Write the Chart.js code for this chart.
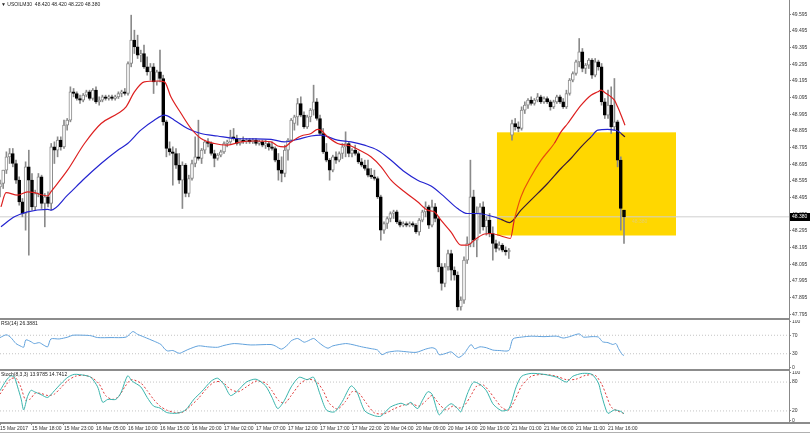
<!DOCTYPE html>
<html><head><meta charset="utf-8">
<script src="https://cdn.jsdelivr.net/npm/chart.js@4.4.1/dist/chart.umd.min.js"></script>
<style>
html,body{margin:0;padding:0;background:#fff;width:810px;height:433px;overflow:hidden;position:relative;}
canvas{position:absolute;left:0;}
.sep{position:absolute;background:#8c8c8c;}
</style></head><body>
<canvas id="cMain" width="810" height="318" style="top:0px"></canvas>
<canvas id="cRsi" width="810" height="49" style="top:320px"></canvas>
<canvas id="cSto" width="810" height="62" style="top:371px"></canvas>
<div class="sep" style="left:0;top:318px;width:790px;height:2px"></div>
<div class="sep" style="left:0;top:369px;width:790px;height:2px"></div>
<div class="sep" style="left:0;top:422px;width:810px;height:2px"></div>
<div class="sep" style="left:0;top:432px;width:810px;height:1px;background:#b0b0b0"></div>
<script>
// ---------- DATA ----------
const symbolTitle = '\u25BC USOILM30  48.420 48.420 48.220 48.380';
const rsiTitle = 'RSI(14) 26.3881';
const stoTitle = 'Stoch(8,3,3) 13.9785 14.7412';
const lastPrice = 48.380;

const O = [
48.56,48.58,48.66,48.74,48.76,48.70,48.60,48.47,48.40,48.68,
48.60,48.44,48.52,48.62,48.46,48.50,48.46,48.80,48.78,48.84,
48.80,48.93,48.96,49.13,49.12,49.09,49.08,49.11,49.13,49.09,
49.14,49.07,49.08,49.10,49.09,49.10,49.09,49.10,49.12,49.13,
49.12,49.30,49.44,49.40,49.35,49.36,49.28,49.25,49.28,49.19,
49.25,49.21,48.95,48.79,48.77,48.76,48.69,48.60,48.69,48.52,
48.61,48.70,48.74,48.73,48.78,48.83,48.82,48.76,48.73,48.75,
48.77,48.82,48.83,48.86,48.85,48.82,48.84,48.83,48.84,48.83,
48.84,48.82,48.83,48.81,48.82,48.80,48.79,48.72,48.66,48.64,
48.78,48.84,48.94,48.98,49.06,48.99,48.92,48.98,49.02,49.07,
48.97,48.88,48.77,48.72,48.66,48.74,48.72,48.76,48.80,48.82,
48.76,48.78,48.76,48.71,48.69,48.67,48.63,48.62,48.61,48.50,
48.30,48.34,48.37,48.40,48.41,48.35,48.33,48.34,48.33,48.34,
48.33,48.29,48.36,48.41,48.44,48.33,48.44,48.37,48.08,47.98,
48.08,48.16,48.06,48.03,47.84,47.88,48.12,48.22,48.50,48.24,
48.40,48.44,48.32,48.36,48.28,48.22,48.19,48.21,48.18,48.17,
48.87,48.94,48.92,48.91,49.02,49.05,49.08,49.06,49.08,49.10,
49.07,49.09,49.07,49.04,49.07,49.10,49.07,49.04,49.12,49.20,
49.24,49.31,49.37,49.27,49.29,49.32,49.23,49.31,49.28,49.07,
48.99,49.05,48.92,48.95,48.72,48.42];
const H = [
48.60,48.66,48.77,48.79,48.79,48.72,48.62,48.49,48.71,48.78,
48.64,48.54,48.64,48.63,48.52,48.53,48.82,48.83,48.86,48.86,
48.96,48.97,49.16,49.15,49.13,49.11,49.12,49.14,49.14,49.15,
49.16,49.10,49.11,49.11,49.11,49.11,49.11,49.13,49.14,49.15,
49.31,49.59,49.50,49.47,49.38,49.41,49.34,49.30,49.30,49.26,
49.38,49.23,48.96,48.83,48.80,48.79,48.76,48.71,48.70,48.63,
48.72,48.86,48.96,48.79,48.84,48.85,48.83,48.78,48.76,48.78,
48.83,48.84,48.90,48.91,48.87,48.85,48.86,48.85,48.85,48.85,
48.85,48.84,48.84,48.84,48.83,48.83,48.80,48.76,48.74,48.81,
48.85,48.97,48.99,49.09,49.10,49.01,48.99,49.03,49.17,49.09,
48.99,48.91,48.82,48.73,48.75,48.77,48.77,48.82,48.89,48.83,
48.79,48.81,48.77,48.73,48.72,48.72,48.67,48.66,48.62,48.51,
48.35,48.38,48.41,48.42,48.42,48.36,48.35,48.35,48.35,48.35,
48.34,48.37,48.42,48.47,48.45,48.48,48.46,48.38,48.10,48.10,
48.18,48.18,48.08,48.05,47.90,48.14,48.26,48.72,48.54,48.44,
48.46,48.47,48.38,48.40,48.32,48.24,48.23,48.22,48.20,48.19,
48.96,48.97,48.95,49.04,49.07,49.09,49.10,49.09,49.12,49.11,
49.10,49.10,49.08,49.08,49.11,49.11,49.09,49.14,49.21,49.25,
49.32,49.45,49.39,49.30,49.33,49.33,49.33,49.32,49.30,49.09,
49.14,49.16,49.21,48.96,48.74,48.42];
const L = [
48.50,48.55,48.64,48.70,48.68,48.58,48.45,48.38,48.30,48.15,
48.42,48.42,48.50,48.43,48.32,48.44,48.42,48.70,48.74,48.78,
48.79,48.90,48.95,49.10,49.08,49.06,49.07,49.10,49.08,49.08,
49.06,49.05,49.07,49.08,49.08,49.08,49.08,49.09,49.10,49.11,
49.11,49.28,49.36,49.33,49.31,49.27,49.23,49.20,49.12,49.17,
49.19,48.93,48.74,48.75,48.57,48.67,48.58,48.43,48.50,48.50,
48.60,48.68,48.72,48.70,48.76,48.80,48.75,48.68,48.72,48.74,
48.76,48.80,48.82,48.84,48.81,48.81,48.82,48.82,48.82,48.82,
48.81,48.81,48.80,48.79,48.78,48.78,48.71,48.60,48.59,48.62,
48.72,48.83,48.90,48.93,48.98,48.91,48.91,48.95,48.99,48.96,
48.87,48.76,48.71,48.60,48.65,48.70,48.71,48.73,48.74,48.74,
48.74,48.75,48.70,48.68,48.66,48.62,48.61,48.60,48.49,48.24,
48.28,48.31,48.35,48.37,48.34,48.32,48.32,48.32,48.32,48.32,
48.28,48.27,48.35,48.38,48.31,48.32,48.35,48.05,47.94,47.96,
48.06,48.00,48.00,47.82,47.82,47.86,48.10,48.20,48.20,48.14,
48.28,48.30,48.27,48.26,48.12,48.17,48.18,48.17,48.15,48.13,
48.84,48.90,48.89,48.90,49.00,49.03,49.05,49.05,49.07,49.06,
49.06,49.06,49.02,49.03,49.06,49.06,49.03,49.03,49.11,49.19,
49.23,49.28,49.25,49.24,49.27,49.21,49.22,49.26,49.05,48.97,
48.97,48.88,48.90,48.68,48.30,48.22];
const C = [
48.58,48.66,48.74,48.76,48.70,48.60,48.47,48.40,48.68,48.60,
48.44,48.52,48.62,48.46,48.50,48.46,48.80,48.78,48.84,48.80,
48.93,48.96,49.13,49.12,49.09,49.08,49.11,49.13,49.09,49.14,
49.07,49.08,49.10,49.09,49.10,49.09,49.10,49.12,49.13,49.12,
49.30,49.44,49.40,49.35,49.36,49.28,49.25,49.28,49.19,49.25,
49.21,48.95,48.79,48.77,48.76,48.69,48.60,48.69,48.52,48.61,
48.70,48.74,48.73,48.78,48.83,48.82,48.76,48.73,48.75,48.77,
48.82,48.83,48.86,48.85,48.82,48.84,48.83,48.84,48.83,48.84,
48.82,48.83,48.81,48.82,48.80,48.79,48.72,48.66,48.64,48.78,
48.84,48.96,48.98,49.06,48.99,48.92,48.98,49.02,49.07,48.97,
48.88,48.77,48.72,48.66,48.74,48.72,48.76,48.80,48.82,48.76,
48.78,48.76,48.71,48.69,48.67,48.63,48.62,48.61,48.50,48.30,
48.34,48.37,48.40,48.41,48.35,48.33,48.34,48.33,48.34,48.33,
48.29,48.36,48.41,48.44,48.33,48.44,48.37,48.08,47.98,48.08,
48.16,48.06,48.03,47.84,47.88,48.12,48.22,48.50,48.24,48.40,
48.44,48.32,48.36,48.28,48.22,48.19,48.21,48.18,48.17,48.18,
48.94,48.92,48.91,49.02,49.05,49.08,49.06,49.08,49.10,49.07,
49.09,49.07,49.04,49.07,49.10,49.07,49.04,49.12,49.20,49.24,
49.31,49.37,49.27,49.29,49.32,49.23,49.31,49.28,49.07,48.99,
49.05,48.92,48.95,48.72,48.43,48.38];

// fast MA (red) sampled points: bar index / value
const redX = [0.3,1.9,5.5,8.6,10.7,14.9,15.9,21.1,26.4,31.6,36.8,39.4,42,45.1,49.3,51.4,53.4,56.6,59.7,62.8,67,71.1,75.3,79.5,84.7,86.8,88.9,91,94.1,97.2,99.3,100.3,102.4,105.5,109.7,111.8,115.9,119.1,122.2,126.4,130.5,133.6,135.7,137.8,140.9,144.1,146.1,148.2,151.4,153.4,156.6,159.5,160.7,162.8,165.9,169.1,173.2,175.3,177.4,181.6,184.7,186.8,187.8,189.4,190.9,192,193,194.1,195.3];
const redY = [48.44,48.525,48.51,48.53,48.525,48.505,48.53,48.66,48.82,48.94,49.00,49.04,49.13,49.19,49.195,49.19,49.10,49.00,48.91,48.85,48.82,48.81,48.83,48.835,48.83,48.805,48.80,48.83,48.865,48.88,48.905,48.90,48.86,48.82,48.805,48.785,48.74,48.68,48.60,48.53,48.47,48.42,48.41,48.36,48.29,48.21,48.21,48.24,48.277,48.28,48.265,48.25,48.36,48.50,48.62,48.72,48.82,48.89,48.94,49.05,49.11,49.13,49.14,49.12,49.10,49.08,49.04,48.99,48.93];
// slow MA (blue)
const blueX = [0.3,4.5,8.6,14.9,15.9,21.1,26.4,31.6,36.8,39.9,44,48.2,51.4,54.5,58.6,62.8,68,73.2,78.4,84.7,88.9,93,97.2,100.3,105.5,109.7,113.9,118,122.2,126.4,130.5,134.7,138.9,143,146.1,149.3,153.4,156.6,159.2,162.8,165.9,171.1,175.3,178.4,181.6,184.7,186.8,189.9,192,193,194.1,195.3];
const blueY = [48.32,48.38,48.41,48.425,48.42,48.51,48.61,48.70,48.78,48.82,48.90,48.96,48.99,48.96,48.91,48.88,48.865,48.85,48.848,48.845,48.83,48.845,48.865,48.87,48.84,48.83,48.81,48.78,48.72,48.65,48.60,48.565,48.50,48.43,48.40,48.40,48.385,48.365,48.345,48.42,48.48,48.58,48.67,48.73,48.80,48.86,48.90,48.905,48.90,48.895,48.88,48.86];

const rsiX = [0,2,3.4,5,6.6,7.4,8.1,9.7,10.7,12.3,13.8,14.9,15.9,18.5,21.2,22.7,26.4,28.4,30.5,34.7,39.4,41.5,43,45.1,48.2,50.3,51.5,52.4,54,56,57.5,58.7,62,64.9,68,70,73.2,78.4,84.7,86,88,90,91,93,95,96,98,99.5,101,102.5,104,108,110,113,116,118,119.3,121,124,126,130,133,135,136.2,137.2,139,141,143.3,145,147.2,148.3,150,152,154,156,159,160.3,163,166,170,174,176,178,181,182.3,185,187,188.3,190,191.5,192.5,193.3,194.5,195];
const rsiY = [65,71,65,52,46,44,60,56,52,54,48,45,62,62,66,70,70,69,65,65,66,78,72,66,57,50,40,36,37,31,35,39,47,45,44,48,52,49,50,47,40,50,58,63,55,57,63,55,47,42,47,52,50,45,41,38,28,33,36,35,33,40,43,40,28,30,34,22,30,50,41,45,43,38,37,37,62,66,68,67,68,64,67,73,66,67,66,56,54,50,52,41,28,26.39];

const stoX = [0,2,3.4,4.5,5.5,6.6,7.4,8.6,9.7,10.7,12.8,14.9,17,19.1,21.2,23.2,26.4,28.4,30.5,32.1,33.7,36.2,37.8,39.9,41.3,44,46,48,50,52,54,56,58,60.7,63,66,68,70,72,74,77,80,83,85,86.8,88.8,91,93.5,96,98,100,102,104.5,107,109.7,111.5,114,117,119,122,125.3,127,128.4,129.4,130.6,132,133.7,135,137.2,139,141,143,144,146.2,148,150,152,154,155.6,157,159,161.3,163,166,170,174,177,179,182,185,187,187.8,189,190,191.9,194,195];
const stoY = [62,84,93,90,70,45,22,50,63,60,54,48,62,77,90,96,94,90,70,38,44,44,58,93,82,70,48,30,26,17,15,16,22,45,60,82,88,75,52,60,80,86,72,48,25,41,70,90,85,90,55,22,18,40,72,60,20,10,9,28,36,32,38,30,25,42,60,55,12,25,35,25,18,58,80,75,62,35,25,20,24,70,92,98,96,90,80,92,98,96,78,58,30,15,22,19,13.98];
const sigX = [0,2,3.4,5,6.5,8,9.5,11,13,15,17,19,21,23.5,26.5,29,31,33,35,37,39,41,44,46,48,50,52,54.5,57,59.5,62,64.5,67,69.5,72,74.5,77,80,83,85,87,89,91,94,96.5,99,101,103,105.5,108,110,112,114.5,117,120,123,126,128.5,131,133,135,137.5,139.5,141.5,143.5,145,147,149,151,153,155,157,159,161,163,166,170,174,177,180,183,186,188,189.5,191,193,195];
const sigY = [55,75,87,88,70,42,45,57,56,52,55,68,82,92,94,88,76,52,44,49,70,85,78,62,44,30,22,17,17,30,46,66,80,80,65,60,70,82,78,62,42,36,52,78,86,80,62,35,24,40,60,58,36,16,14,24,32,35,30,40,52,32,22,30,26,30,50,72,74,60,42,26,22,44,72,92,96,92,85,86,94,94,76,52,28,20,14.74];

const priceTicks = [49.595,49.495,49.395,49.295,49.195,49.095,48.995,48.895,48.795,48.695,48.595,48.495,48.395,48.295,48.195,48.095,47.995,47.895,47.795];
const rsiTicks = [100,70,30,0];
const rsiLevels = [70,30];
const stoTicks = [100,80,20,0];
const stoLevels = [80,20];
const timeTickIdx = [0,10,20,30,40,50,60,70,80,90,100,110,120,130,140,150,160,170,180,190];
const timeLabels = ['15 Mar 2017','15 Mar 18:00','15 Mar 23:00','16 Mar 05:00','16 Mar 10:00','16 Mar 15:00','16 Mar 20:00','17 Mar 02:00','17 Mar 07:00','17 Mar 12:00','17 Mar 17:00','17 Mar 22:00','20 Mar 04:00','20 Mar 09:00','20 Mar 14:00','20 Mar 19:00','21 Mar 01:00','21 Mar 06:00','21 Mar 11:00','21 Mar 16:00'];
// highlighted zone: bar-index range and price range
const boxX = [155.3, 211.25];
const boxY = [48.268, 48.887];

// ---------- VIEW ----------
const F = "'Liberation Sans', Arial, sans-serif";
const XMIN = 0, XMAX = 246.5625;
const AXW = 21;

const pts = (xs, ys) => xs.map((x,i)=>({x, y:ys[i]}));
const idx = O.map((_,i)=>i);
const wickData = idx.map(i=>({x:i, y:[L[i], H[i]]}));
const bodyData = idx.map(i=>{ let lo=Math.min(O[i],C[i]), hi=Math.max(O[i],C[i]); if(hi-lo<0.006) hi=lo+0.006; return {x:i, y:[lo,hi]}; });
const bull = idx.map(i=>C[i]>=O[i]);

function inBox(x,y){ return x>=boxX[0] && x<=boxX[1] && y>=boxY[0] && y<=boxY[1]; }

function yAxis(min,max,ticks,fmt){
  return {
    position:'right', min, max,
    afterBuildTicks:s=>{ s.ticks = ticks.map(v=>({value:v})); },
    afterFit:s=>{ s.width = AXW; s.paddingTop=0; s.paddingBottom=0; },
    ticks:{ font:{family:F,size:5}, color:'#333', padding:1, autoSkip:false, callback:v=>fmt(v) },
    grid:{ display:true, drawOnChartArea:false, tickLength:2, color:'#888' },
    border:{ display:true, color:'#888', width:1 }
  };
}
const xHidden = { type:'linear', min:XMIN, max:XMAX, offset:false, display:false };
const common = { responsive:false, animation:false, events:[], layout:{padding:0},
  plugins:{ legend:{display:false}, tooltip:{enabled:false} } };

const mainPlugin = {
  id:'mainDeco',
  beforeDatasetsDraw(chart){
    const {ctx, scales:{x,y}} = chart;
    const x0=x.getPixelForValue(boxX[0]), x1=x.getPixelForValue(boxX[1]);
    const y0=y.getPixelForValue(boxY[1]), y1=y.getPixelForValue(boxY[0]);
    ctx.save(); ctx.fillStyle='#FFD700'; ctx.fillRect(x0,y0,x1-x0,y1-y0); ctx.restore();
  },
  afterDraw(chart){
    const {ctx, scales:{x,y}, chartArea} = chart;
    const yp = y.getPixelForValue(lastPrice);
    ctx.save();
    ctx.fillStyle='#000'; ctx.fillRect(chartArea.right+1, Math.round(yp)-4, 20, 8);
    ctx.font = '5px '+F; ctx.textBaseline='middle'; ctx.fillStyle='#fff';
    ctx.fillText(lastPrice.toFixed(3), chartArea.right+3, yp);
    ctx.fillStyle='#222'; ctx.fillText(symbolTitle, 1, 5);
    ctx.fillStyle='#e6cf6a'; ctx.fillText(lastPrice.toFixed(3), x.getPixelForValue(197.5), yp+5);
    ctx.restore();
  }
};
function titlePlugin(text){
  return { id:'t'+text.length, afterDraw(chart){ const c=chart.ctx; c.save(); c.font='5px '+F; c.textBaseline='middle'; c.fillStyle='#222'; c.fillText(text,1,3.5); c.restore(); } };
}
function levelLine(v){
  return { type:'line', data:[{x:XMIN,y:v},{x:XMAX,y:v}], borderColor:'#c4c4c4', borderWidth:1, borderDash:[1,2], pointRadius:0, order:10 };
}

new Chart(document.getElementById('cMain'), {
  type:'bar',
  data:{ datasets:[
    { type:'line', data:[{x:XMIN,y:lastPrice},{x:XMAX,y:lastPrice}], borderColor:'#cfcfcf', borderWidth:1, pointRadius:0, order:20 },
    { type:'bar', data:wickData, grouped:false, barThickness:1, backgroundColor:'#8a8a8a', order:6 },
    { type:'bar', data:bodyData, grouped:false, barThickness:3, borderSkipped:false, borderWidth:1,
      backgroundColor: idx.map(i=>bull[i]?'#ffffff':'#000000'), borderColor: idx.map(i=>bull[i]?'#8a8a8a':'#000000'), order:5 },
    { type:'line', data:pts(blueX,blueY), borderColor:'#2424d0', borderWidth:1.2, pointRadius:0, cubicInterpolationMode:'monotone', order:2,
      segment:{ borderColor:c=> (inBox(c.p0.parsed.x,c.p0.parsed.y)&&inBox(c.p1.parsed.x,c.p1.parsed.y)) ? '#3a1838' : undefined } },
    { type:'line', data:pts(redX,redY), borderColor:'#dd2020', borderWidth:1.2, pointRadius:0, cubicInterpolationMode:'monotone', order:1,
      segment:{ borderColor:c=> (inBox(c.p0.parsed.x,c.p0.parsed.y)&&inBox(c.p1.parsed.x,c.p1.parsed.y)) ? '#e8500c' : undefined } }
  ]},
  options:Object.assign({}, common, { scales:{ x:xHidden, y:yAxis(47.773,49.681,priceTicks,v=>v.toFixed(3)) } }),
  plugins:[mainPlugin]
});

new Chart(document.getElementById('cRsi'), {
  type:'line',
  data:{ datasets:[
    ...rsiLevels.map(levelLine),
    { data:pts(rsiX,rsiY), borderColor:'#62a2dc', borderWidth:1, pointRadius:0, tension:0.25, order:1 }
  ]},
  options:Object.assign({}, common, { scales:{ x:xHidden, y:yAxis(-3,103,rsiTicks,v=>String(v)) } }),
  plugins:[titlePlugin(rsiTitle)]
});

new Chart(document.getElementById('cSto'), {
  type:'line',
  data:{ datasets:[
    ...stoLevels.map(levelLine),
    { data:pts(sigX,sigY), borderColor:'#e03c3c', borderWidth:1, borderDash:[2,2], pointRadius:0, tension:0.25, order:2 },
    { data:pts(stoX,stoY), borderColor:'#3ab4ac', borderWidth:1, pointRadius:0, tension:0.25, order:1 }
  ]},
  options:Object.assign({}, common, { scales:{
    x:{ type:'linear', min:XMIN, max:XMAX, offset:false, position:'bottom',
        afterBuildTicks:s=>{ s.ticks = timeTickIdx.map(v=>({value:v})); },
        afterFit:s=>{ s.height = 11; s.paddingLeft=0; s.paddingRight=0; },
        ticks:{ font:{family:F,size:5}, color:'#333', padding:1, align:'start', maxRotation:0, minRotation:0, autoSkip:false,
                callback:(v,i)=>timeLabels[i] },
        grid:{ display:true, drawOnChartArea:false, tickLength:3, color:'#888' },
        border:{ display:false } },
    y:yAxis(-3,103,stoTicks,v=>String(v)) } }),
  plugins:[titlePlugin(stoTitle)]
});
</script>
</body></html>
